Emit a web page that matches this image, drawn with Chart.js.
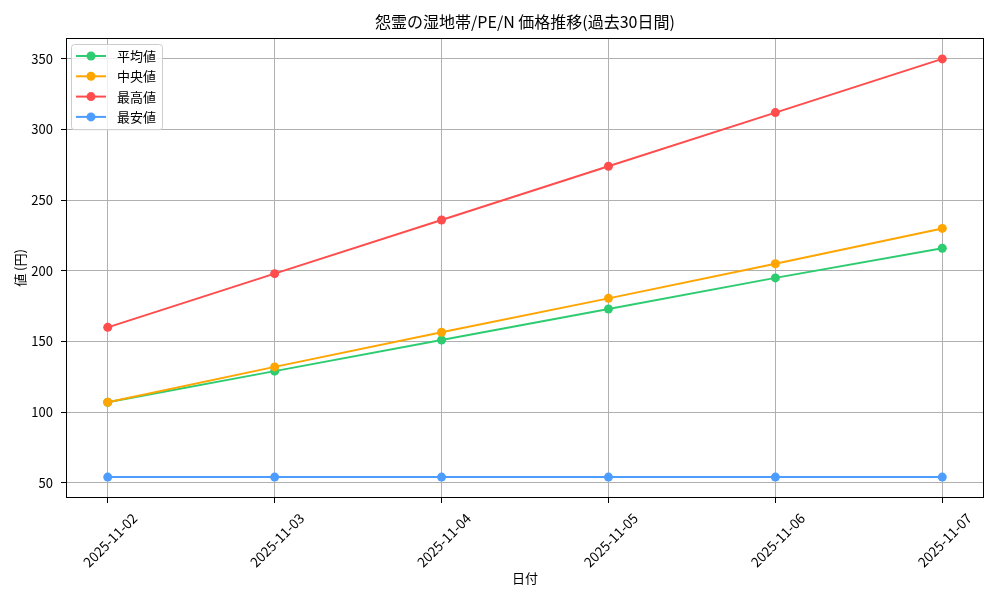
<!DOCTYPE html>
<html lang="ja">
<head>
    <meta charset="UTF-8">
    <title>怨霊の湿地帯/PE/N 価格推移</title>
    <script src="https://cdn.jsdelivr.net/npm/chart.js"></script>
    <style>
        body { margin: 0; background: #fff; }
        #wrap { width: 1000px; height: 600px; }
    </style>
</head>
<body>
    <div id="wrap">
        <canvas id="priceChart" width="1000" height="600"></canvas>
    </div>

    <script>
        // data
        const dates = ['2025-11-02', '2025-11-03', '2025-11-04', '2025-11-05', '2025-11-06', '2025-11-07'];
        const avgPrice = [107, 129, 151, 173, 195, 216];
        const medianPrice = [107, 132, 156.5, 180.5, 205, 230];
        const maxPrice = [160, 198, 236, 274, 312, 350];
        const minPrice = [54, 54, 54, 54, 54, 54];
        const yTicks = [50, 100, 150, 200, 250, 300, 350];
        const chartTitle = '怨霊の湿地帯/PE/N 価格推移(過去30日間)';

        const FONT = "'Noto Sans CJK JP', 'Noto Sans', sans-serif";

        const toPoints = arr => arr.map((v, i) => ({ x: i, y: v }));

        function series(label, values, color, order) {
            return {
                label: label,
                data: toPoints(values),
                borderColor: color,
                backgroundColor: color,
                borderWidth: 2,
                pointRadius: 4.5,
                pointBorderWidth: 0,
                pointBackgroundColor: color,
                tension: 0,
                order: order
            };
        }

        // matplotlib-like frame around the plot area + title centred over it
        const framePlugin = {
            id: 'frame',
            afterDatasetsDraw(chart) {
                const a = chart.chartArea;
                const c = chart.ctx;
                c.save();
                c.strokeStyle = '#000';
                c.lineWidth = 1;
                c.strokeRect(Math.round(a.left) + 0.5, Math.round(a.top) + 0.5,
                    Math.round(a.right - a.left) - 1, Math.round(a.bottom - a.top) - 1);
                c.fillStyle = '#000';
                c.font = '16px ' + FONT;
                c.textAlign = 'center';
                c.textBaseline = 'middle';
                c.fillText(chartTitle, (a.left + a.right) / 2, 22);
                c.restore();
            }
        };

        // legend box in the upper-left corner of the plot
        const boxLegend = {
            id: 'boxLegend',
            afterDraw(chart) {
                const c = chart.ctx;
                const a = chart.chartArea;
                const x0 = a.left + 5, y0 = a.top + 6;
                const w = 91, rowH = 20.3;
                const sets = chart.data.datasets;
                const h = sets.length * rowH + 4;
                c.save();
                c.fillStyle = 'rgba(255,255,255,0.8)';
                c.strokeStyle = '#cccccc';
                c.lineWidth = 1;
                c.beginPath();
                c.roundRect(x0 + 0.5, y0 + 0.5, w, h, 3);
                c.fill();
                c.stroke();
                c.font = '13px ' + FONT;
                c.textBaseline = 'middle';
                sets.forEach((ds, i) => {
                    const cy = y0 + 12 + i * rowH;
                    c.strokeStyle = ds.borderColor;
                    c.lineWidth = 2;
                    c.beginPath();
                    c.moveTo(x0 + 5, cy);
                    c.lineTo(x0 + 35, cy);
                    c.stroke();
                    c.fillStyle = ds.borderColor;
                    c.beginPath();
                    c.arc(x0 + 20, cy, 4.5, 0, Math.PI * 2);
                    c.fill();
                    c.fillStyle = '#000';
                    c.fillText(ds.label, x0 + 46, cy);
                });
                c.restore();
            }
        };

        const ctx = document.getElementById('priceChart').getContext('2d');

        new Chart(ctx, {
            type: 'line',
            data: {
                datasets: [
                    series('平均値', avgPrice, '#2ecc71', 4),
                    series('中央値', medianPrice, '#ffa500', 3),
                    series('最高値', maxPrice, '#ff4d4d', 2),
                    series('最安値', minPrice, '#4d9cff', 1)
                ]
            },
            options: {
                responsive: false,
                animation: false,
                devicePixelRatio: 1,
                layout: { padding: { left: 0, right: 16, top: 38, bottom: 0 } },
                plugins: {
                    legend: { display: false },
                    tooltip: { enabled: false },
                    title: { display: false }
                },
                scales: {
                    x: {
                        type: 'linear',
                        min: -0.25,
                        max: 5.25,
                        afterBuildTicks: scale => {
                            scale.ticks = dates.map((d, i) => ({ value: i }));
                        },
                        afterFit: scale => { scale.height = 102; },
                        ticks: {
                            autoSkip: false,
                            minRotation: 45,
                            maxRotation: 45,
                            labelOffset: 27,
                            padding: 7,
                            color: '#000',
                            font: { family: FONT, size: 13.5 },
                            callback: v => dates[v]
                        },
                        grid: {
                            color: '#b0b0b0',
                            lineWidth: 1,
                            tickColor: '#000',
                            tickLength: 5
                        },
                        border: { display: false },
                        title: {
                            display: true,
                            text: '日付',
                            color: '#000',
                            font: { family: FONT, size: 13 },
                            padding: { top: 0, bottom: 14 }
                        }
                    },
                    y: {
                        min: 39.2,
                        max: 364.8,
                        afterBuildTicks: scale => {
                            scale.ticks = yTicks.map(v => ({ value: v }));
                        },
                        afterFit: scale => { scale.width = 66; },
                        ticks: {
                            padding: 8,
                            color: '#000',
                            font: { family: FONT, size: 13 }
                        },
                        grid: {
                            color: '#b0b0b0',
                            lineWidth: 1,
                            tickColor: '#000',
                            tickLength: 5
                        },
                        border: { display: false },
                        title: {
                            display: true,
                            text: '値 (円)',
                            color: '#000',
                            font: { family: FONT, size: 13 },
                            padding: { top: 12, bottom: 0 }
                        }
                    }
                }
            },
            plugins: [framePlugin, boxLegend]
        });
    </script>
</body>
</html>
